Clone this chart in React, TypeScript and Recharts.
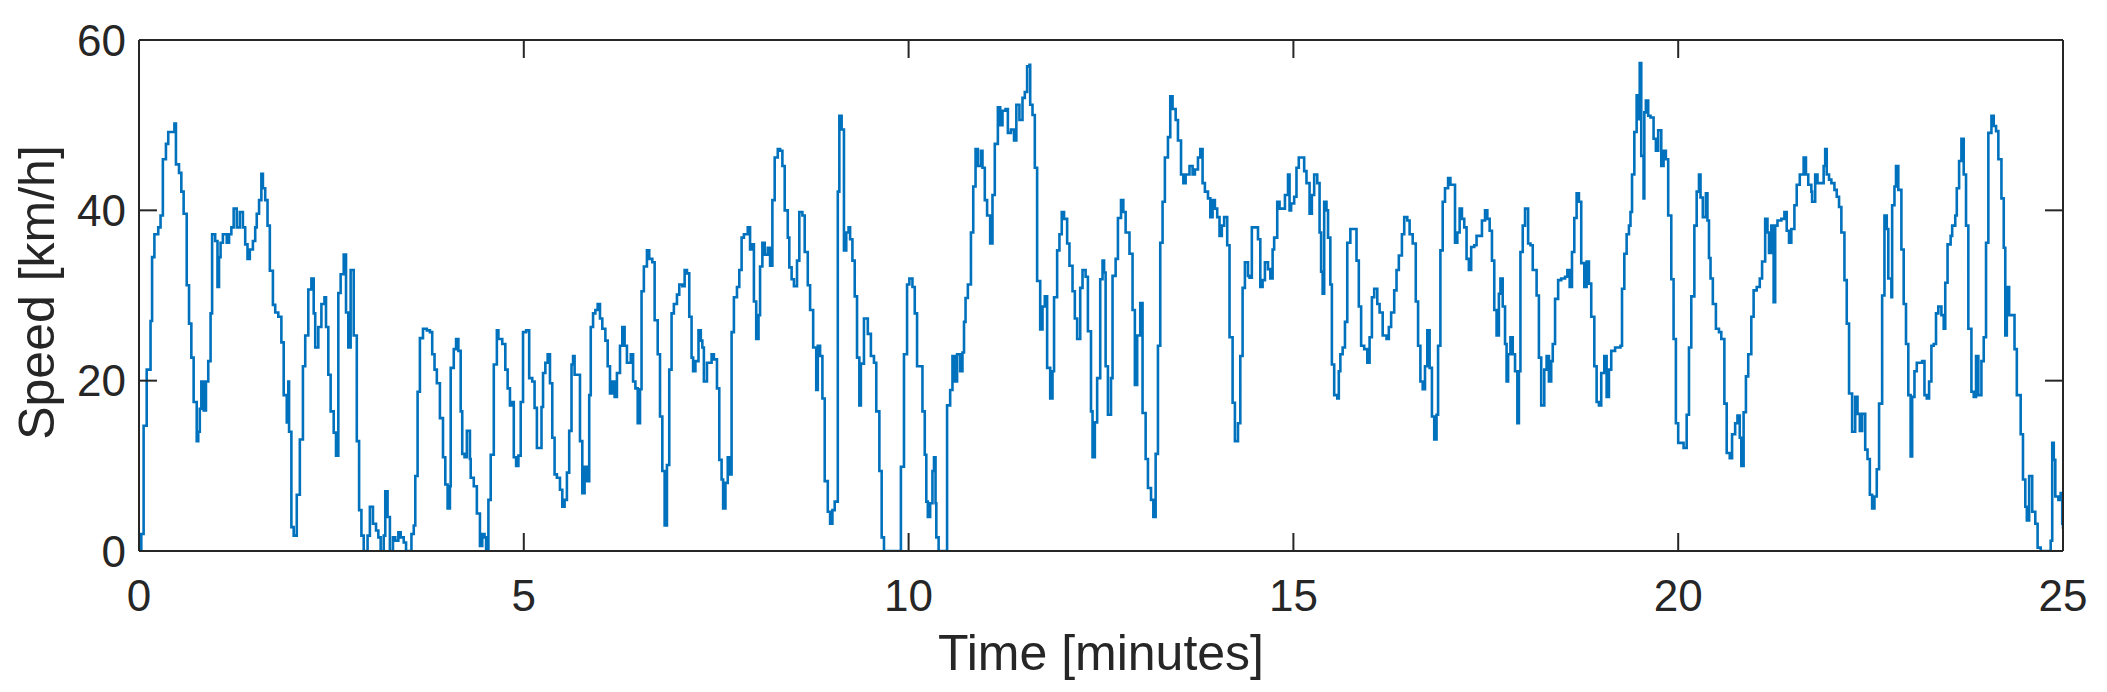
import { LineChart, Line, XAxis, YAxis, Label } from "recharts"

// speed trace, [minutes, km/h] in 5-minute chunks
const seg00to05: [number, number][] = [
  [0, 0], [0.03, 2], [0.06, 14.7], [0.1, 21.3], [0.15, 27], [0.17, 34.5], [0.2, 37.2], [0.25, 38], [0.28, 39.4], [0.31, 46],
  [0.35, 47.8], [0.38, 49.2], [0.42, 49.2], [0.46, 50.2], [0.48, 45.4], [0.52, 44.4], [0.55, 42.2], [0.58, 39.6], [0.62, 31.2], [0.65, 26.7],
  [0.68, 22.7], [0.71, 17.5], [0.75, 12.9], [0.77, 14], [0.79, 16.7], [0.81, 19.9], [0.84, 16.5], [0.87, 19.9], [0.9, 22.3], [0.93, 27.9],
  [0.95, 37.2], [0.99, 36.4], [1.02, 31], [1.04, 34.5], [1.06, 36.2], [1.09, 37.2], [1.14, 36.2], [1.17, 37.2], [1.2, 38], [1.23, 40.2],
  [1.27, 38], [1.31, 39.8], [1.35, 38], [1.38, 36], [1.41, 34.3], [1.44, 35.4], [1.48, 36.4], [1.51, 38], [1.53, 39.6], [1.56, 41.2],
  [1.59, 44.3], [1.61, 42.6], [1.64, 41.2], [1.67, 38.2], [1.7, 32.9], [1.74, 28.9], [1.77, 28], [1.81, 27.5], [1.85, 24.5], [1.88, 18.3],
  [1.92, 15.1], [1.94, 19.9], [1.95, 14], [1.98, 2.8], [2.01, 1.8], [2.05, 6.6], [2.09, 13.1], [2.13, 21.7], [2.16, 25.3], [2.2, 30.7],
  [2.24, 32], [2.27, 27.9], [2.29, 23.9], [2.33, 26.3], [2.37, 29], [2.41, 29.8], [2.43, 26.3], [2.46, 20.7], [2.49, 16.4], [2.53, 13.9],
  [2.56, 11.2], [2.59, 30.3], [2.62, 32.5], [2.66, 34.8], [2.69, 28], [2.72, 23.9], [2.75, 33], [2.79, 25.3], [2.83, 12.9], [2.86, 4.8],
  [2.89, 1.8], [2.92, 0], [2.97, 1.8], [3.0, 5.2], [3.04, 3.2], [3.08, 2.4], [3.11, 1.6], [3.14, 0], [3.18, 1.8], [3.2, 7],
  [3.23, 4], [3.26, 0], [3.3, 1.6], [3.33, 1.2], [3.37, 2.2], [3.4, 1.6], [3.44, 1], [3.47, 0], [3.52, 0], [3.54, 2],
  [3.57, 3], [3.59, 8.8], [3.62, 18.7], [3.65, 25], [3.69, 26.1], [3.74, 25.9], [3.78, 25.7], [3.81, 23.1], [3.84, 21.3], [3.87, 19.7],
  [3.91, 15.6], [3.95, 11], [3.98, 7.8], [4.01, 5], [4.04, 7.6], [4.05, 21.5], [4.09, 23.7], [4.12, 24.9], [4.15, 23.5], [4.18, 16.4],
  [4.2, 11.4], [4.23, 11], [4.26, 14.1], [4.3, 10.8], [4.31, 8.6], [4.35, 7.6], [4.39, 4.4], [4.43, 0.6], [4.46, 2], [4.49, 1.6],
  [4.51, 0], [4.54, 6], [4.57, 11.3], [4.61, 21.9], [4.65, 25.9], [4.67, 24.9], [4.72, 24.3], [4.76, 21.3], [4.79, 19.1], [4.82, 17.1],
  [4.85, 17.5], [4.87, 11], [4.9, 10], [4.93, 11.2], [4.96, 17.5], [4.99, 25.7],
]

const seg05to10: [number, number][] = [
  [5.03, 25.9], [5.07, 20.3], [5.11, 19.9], [5.14, 16.8], [5.17, 12.1], [5.2, 12.1], [5.23, 16.9], [5.25, 20.9], [5.28, 22.1], [5.31, 23.1],
  [5.34, 19.7], [5.37, 13.3], [5.4, 9], [5.43, 8.6], [5.47, 7.2], [5.5, 5.2], [5.53, 6], [5.56, 9.2], [5.59, 14.1], [5.62, 21.9],
  [5.64, 22.9], [5.66, 20.7], [5.69, 20.7], [5.73, 12.9], [5.76, 6.8], [5.79, 9.9], [5.82, 8.2], [5.85, 18.3], [5.87, 26.3], [5.9, 27.9],
  [5.93, 28.3], [5.96, 29], [5.99, 27.3], [6.02, 26.1], [6.06, 24.7], [6.09, 21.7], [6.12, 18.5], [6.15, 19.9], [6.18, 18.1], [6.21, 20.9],
  [6.25, 24.1], [6.28, 26.3], [6.31, 24.1], [6.34, 22.1], [6.39, 23.1], [6.42, 19.9], [6.45, 19.1], [6.48, 15], [6.51, 19], [6.53, 30.5],
  [6.56, 33.4], [6.6, 35.3], [6.63, 34.3], [6.67, 33.9], [6.7, 27.1], [6.74, 23.1], [6.77, 15.8], [6.8, 9.4], [6.83, 3], [6.86, 10.1],
  [6.89, 21.3], [6.92, 27.9], [6.95, 29], [6.99, 30.1], [7.02, 31.3], [7.06, 31.1], [7.09, 33], [7.12, 32.6], [7.15, 27.5], [7.18, 22.7],
  [7.2, 21.1], [7.23, 22.3], [7.27, 25.9], [7.3, 24.7], [7.32, 23.9], [7.34, 19.9], [7.38, 22.1], [7.41, 22.1], [7.44, 23.1], [7.47, 22.5],
  [7.51, 19.1], [7.54, 10.7], [7.57, 8.4], [7.59, 5], [7.62, 8], [7.65, 11], [7.68, 9], [7.7, 25.7], [7.73, 29.8], [7.77, 31],
  [7.8, 33], [7.83, 36.8], [7.86, 37.2], [7.91, 38], [7.94, 35.4], [7.97, 36], [7.99, 29.3], [8.02, 24.9], [8.05, 27.7], [8.07, 33.4],
  [8.1, 36.2], [8.13, 34.8], [8.17, 35.6], [8.2, 33.5], [8.23, 41.2], [8.26, 46.2], [8.3, 47.2], [8.33, 47], [8.36, 45.2], [8.39, 40],
  [8.43, 36.8], [8.45, 33.3], [8.48, 31.9], [8.51, 31.1], [8.55, 34.1], [8.58, 39.8], [8.62, 39.4], [8.65, 35.1], [8.69, 31.2], [8.72, 28.3],
  [8.76, 23.9], [8.8, 18.9], [8.82, 24.1], [8.85, 22.9], [8.88, 17.9], [8.91, 8.2], [8.95, 4.6], [8.98, 3.2], [9.01, 4.8], [9.04, 5.8],
  [9.08, 42.2], [9.1, 51.1], [9.13, 49.5], [9.16, 35.3], [9.19, 37.4], [9.22, 38], [9.24, 36.6], [9.27, 34.1], [9.3, 29.9], [9.33, 22.7],
  [9.36, 17.1], [9.38, 22], [9.42, 27.3], [9.47, 25.5], [9.51, 22.9], [9.55, 22.1], [9.58, 16.4], [9.62, 9.4], [9.65, 1.6], [9.68, 0],
  [9.88, 0], [9.9, 9.9], [9.94, 23.1], [9.98, 31.3],
]

const seg10to15: [number, number][] = [
  [10.01, 32], [10.05, 31], [10.08, 27.9], [10.11, 21.7], [10.18, 16.4], [10.21, 11.3], [10.23, 5.8], [10.25, 4], [10.28, 5.6], [10.31, 9.4],
  [10.33, 11], [10.35, 5.6], [10.36, 1.6], [10.39, 0], [10.48, 0], [10.5, 17.1], [10.54, 18.9], [10.57, 22.9], [10.6, 19.9], [10.63, 23.1],
  [10.67, 21.1], [10.7, 23.3], [10.72, 26.9], [10.74, 29.7], [10.77, 31.3], [10.81, 37.4], [10.84, 42.8], [10.87, 47.2], [10.9, 45.2], [10.94, 47],
  [10.96, 45], [10.99, 41.2], [11.02, 39.4], [11.06, 36.1], [11.09, 41.8], [11.12, 47.8], [11.16, 52.1], [11.19, 50], [11.22, 51.7], [11.26, 51.9],
  [11.29, 49.1], [11.33, 49.5], [11.37, 48.2], [11.4, 52.4], [11.44, 50.6], [11.48, 53.2], [11.51, 53.9], [11.54, 56.9], [11.57, 57.1], [11.58, 52.4],
  [11.61, 51.2], [11.64, 45], [11.67, 31.7], [11.71, 26], [11.74, 28.7], [11.77, 29.9], [11.8, 21.5], [11.84, 17.9], [11.87, 21.1], [11.89, 29.8],
  [11.93, 35.3], [11.96, 37.2], [11.99, 39.8], [12.02, 39], [12.06, 36.1], [12.09, 33.5], [12.13, 30.5], [12.16, 27.3], [12.19, 24.9], [12.23, 30.9],
  [12.26, 33], [12.3, 32.2], [12.33, 25.8], [12.37, 16.4], [12.39, 11], [12.42, 15.1], [12.45, 20.3], [12.49, 31.9], [12.52, 34.1], [12.54, 32.7],
  [12.56, 21.7], [12.59, 16], [12.63, 20.3], [12.65, 32.3], [12.69, 34.3], [12.72, 39.1], [12.76, 41.2], [12.79, 39.8], [12.82, 37.4], [12.87, 34.9],
  [12.91, 28.3], [12.94, 19.5], [12.97, 25.3], [13.01, 29.1], [13.04, 16.2], [13.08, 10.8], [13.11, 7.4], [13.15, 6], [13.18, 4], [13.21, 11.4],
  [13.24, 24.1], [13.27, 36.2], [13.3, 41], [13.33, 46.2], [13.37, 48.6], [13.4, 53.4], [13.43, 51.9], [13.47, 50.6], [13.5, 48.2], [13.54, 44.2],
  [13.57, 43.2], [13.6, 44.2], [13.65, 45.2], [13.69, 44.2], [13.72, 44.8], [13.76, 46.2], [13.79, 47.2], [13.82, 43.2], [13.85, 42.2], [13.89, 41.4],
  [13.92, 39.2], [13.95, 41.2], [13.98, 40.2], [14.01, 39.2], [14.04, 37], [14.07, 38.2], [14.1, 39.2], [14.14, 35.9], [14.17, 25.1], [14.21, 17.4],
  [14.24, 12.9], [14.28, 15], [14.31, 22.9], [14.34, 30.9], [14.37, 33.9], [14.41, 32.3], [14.43, 32.1], [14.46, 38], [14.49, 38], [14.54, 36.6],
  [14.57, 31], [14.6, 31.8], [14.63, 33.9], [14.67, 33.1], [14.7, 32], [14.73, 35.4], [14.75, 36.8], [14.79, 41], [14.82, 40.2], [14.86, 40.2],
  [14.89, 41.8], [14.93, 44.2], [14.95, 40], [14.97, 40.8],
]

const seg15to20: [number, number][] = [
  [15.01, 41.6], [15.04, 45], [15.07, 46.2], [15.11, 46.2], [15.14, 44.6], [15.17, 43.2], [15.21, 39.6], [15.24, 41.8], [15.27, 44.2], [15.31, 43.2],
  [15.34, 37.4], [15.36, 32.8], [15.38, 30.2], [15.4, 41], [15.43, 40], [15.45, 36.8], [15.48, 31.3], [15.5, 21.9], [15.53, 18.3], [15.57, 17.9],
  [15.59, 21.1], [15.61, 23.1], [15.64, 23.9], [15.67, 26.9], [15.7, 36.2], [15.74, 37.8], [15.79, 37.8], [15.82, 34.1], [15.85, 28.7], [15.88, 24.1],
  [15.92, 23.7], [15.96, 22.1], [15.99, 25.1], [16.02, 29.8], [16.05, 30.8], [16.09, 29], [16.12, 28], [16.16, 25.3], [16.21, 24.9], [16.24, 26.3],
  [16.27, 28], [16.31, 30.6], [16.34, 33], [16.37, 34.7], [16.41, 37.2], [16.44, 39.2], [16.48, 38.8], [16.51, 37.2], [16.55, 36.1], [16.59, 29.3],
  [16.62, 24.1], [16.65, 19.9], [16.68, 19], [16.71, 21.7], [16.74, 25.9], [16.77, 21.5], [16.8, 15.8], [16.83, 13.1], [16.86, 16], [16.88, 24.1],
  [16.91, 35.3], [16.94, 41], [16.97, 42.6], [17.01, 43.8], [17.04, 43], [17.07, 43], [17.1, 36.2], [17.13, 37.4], [17.16, 40.2], [17.19, 39],
  [17.22, 38], [17.25, 34.3], [17.28, 33], [17.31, 35.7], [17.35, 35.9], [17.38, 37], [17.42, 37], [17.45, 38.8], [17.49, 40], [17.52, 39],
  [17.55, 37.6], [17.58, 34.1], [17.61, 28.3], [17.64, 25.3], [17.67, 30.2], [17.69, 32], [17.72, 28.7], [17.75, 24.3], [17.77, 19.9], [17.79, 23.1],
  [17.82, 25.1], [17.85, 23.1], [17.88, 21.1], [17.91, 15], [17.93, 21.1], [17.95, 35.1], [17.98, 38.2], [18.01, 40.2], [18.05, 36.1], [18.08, 35.9],
  [18.11, 33], [18.16, 30], [18.19, 22.7], [18.22, 17.1], [18.26, 21.3], [18.29, 22.9], [18.32, 19.9], [18.35, 22.3], [18.37, 24.3], [18.4, 29.6],
  [18.44, 31.8], [18.48, 32], [18.53, 32.2], [18.56, 33], [18.59, 31], [18.62, 35.1], [18.65, 39.1], [18.68, 42], [18.71, 41], [18.74, 33.8],
  [18.78, 31], [18.81, 34], [18.84, 31.4], [18.87, 27.5], [18.91, 21.7], [18.94, 17.5], [18.97, 17.1], [19.0, 20.9], [19.04, 22.9], [19.07, 18.1],
  [19.1, 21.3], [19.13, 23.5], [19.18, 23.9], [19.22, 23.9], [19.25, 24.1], [19.27, 30.8], [19.3, 34.9], [19.33, 37.2], [19.36, 38.2], [19.38, 39.8],
  [19.4, 44.2], [19.43, 49.2], [19.46, 53.5], [19.48, 50.7], [19.5, 57.3], [19.52, 46.4], [19.55, 41.4], [19.56, 51.5], [19.58, 52.9], [19.61, 51.1],
  [19.64, 50.9], [19.68, 48.4], [19.71, 47], [19.74, 49.4], [19.78, 45.2], [19.81, 47], [19.84, 46], [19.87, 39.4], [19.91, 31.9], [19.94, 24.9],
  [19.97, 15], [20.0, 12.7],
]

const seg20to25: [number, number][] = [
  [20.07, 12.1], [20.11, 16], [20.14, 23.9], [20.17, 29.9], [20.21, 38.2], [20.24, 42.2], [20.27, 44.2], [20.29, 41.5], [20.32, 39.2], [20.36, 42],
  [20.38, 38.8], [20.4, 34.4], [20.42, 32], [20.45, 29], [20.49, 26.1], [20.53, 25.7], [20.56, 24.9], [20.6, 17.3], [20.63, 11.5], [20.67, 10.9],
  [20.7, 13.7], [20.74, 15], [20.77, 15.9], [20.8, 13.3], [20.82, 10], [20.85, 16.3], [20.88, 20.5], [20.91, 23.1], [20.95, 27.5], [20.98, 30.6],
  [21.02, 31], [21.06, 32], [21.09, 34], [21.13, 39], [21.16, 37.4], [21.18, 35], [21.21, 38.2], [21.24, 29.2], [21.26, 38.2], [21.29, 38.8],
  [21.34, 39], [21.38, 39.8], [21.41, 37.6], [21.44, 36.2], [21.47, 37.8], [21.51, 40.6], [21.54, 43], [21.58, 44.2], [21.63, 46.2], [21.66, 44.2],
  [21.69, 43], [21.73, 42.2], [21.74, 41], [21.78, 44.2], [21.81, 43.2], [21.86, 43.2], [21.89, 45.2], [21.91, 47.2], [21.93, 44.2], [21.96, 43.6],
  [21.99, 43.2], [22.03, 42.4], [22.06, 41.6], [22.09, 40.4], [22.12, 37.4], [22.16, 31.8], [22.19, 26.7], [22.22, 18.5], [22.26, 14], [22.3, 18.1],
  [22.33, 16.1], [22.36, 14.1], [22.39, 16.1], [22.43, 11.9], [22.46, 10.8], [22.49, 6.6], [22.52, 5], [22.55, 6.4], [22.58, 9.6], [22.61, 17.3],
  [22.65, 30], [22.68, 39.4], [22.71, 37.8], [22.73, 32], [22.77, 29.8], [22.78, 40.6], [22.81, 42.8], [22.83, 45.2], [22.86, 42.4], [22.9, 35.4],
  [22.93, 29], [22.96, 24.3], [22.99, 18.3], [23.02, 11.1], [23.04, 18.1], [23.07, 21.1], [23.1, 22.1], [23.13, 22.1], [23.17, 22.3], [23.2, 18.3],
  [23.23, 17.9], [23.26, 19.9], [23.29, 24.1], [23.32, 24.3], [23.35, 27.9], [23.38, 28.7], [23.42, 27.7], [23.45, 26.1], [23.47, 31.5], [23.5, 36],
  [23.54, 37], [23.56, 38.2], [23.6, 39.4], [23.62, 42.6], [23.65, 45.8], [23.68, 48.4], [23.71, 44.2], [23.74, 38.2], [23.77, 26.1], [23.81, 18.7],
  [23.84, 18.1], [23.87, 22.9], [23.9, 18.3], [23.94, 22.3], [23.97, 25.1], [24.0, 36.2], [24.03, 49.1], [24.07, 51.1], [24.1, 49.9], [24.13, 49.3],
  [24.16, 46], [24.2, 41.4], [24.23, 35.6], [24.25, 25.3], [24.27, 31], [24.3, 27.7], [24.34, 27.7], [24.37, 23.7], [24.4, 18.3], [24.45, 13.7],
  [24.48, 8.4], [24.51, 5.2], [24.53, 3.6], [24.56, 8.8], [24.6, 4.6], [24.64, 3.2], [24.67, 0.4], [24.71, 0], [24.8, 0], [24.84, 1.2],
  [24.86, 12.7], [24.88, 10.7], [24.9, 6.4], [24.94, 6], [24.97, 6.8], [24.99, 3.2], [25.0, 2.6],
]

const xTicks = [0, 5, 10, 15, 20, 25]
const yTicks = [0, 20, 40, 60]

const speedData = [...seg00to05, ...seg05to10, ...seg10to15, ...seg15to20, ...seg20to25].map(([t, v]) => ({ t, v }))

const FONT = '"Liberation Sans", Arial, Helvetica, sans-serif'
const INK = "#262626"
const BLUE = "#0072BD"

// layout
const W = 2107
const H = 692
const M_TOP = 40
const M_RIGHT = 44
const X_AXIS_H = 141
const Y_AXIS_W = 139
const PLOT_TOP = M_TOP
const PLOT_BOTTOM = H - X_AXIS_H
const PLOT_LEFT = Y_AXIS_W
const PLOT_RIGHT = W - M_RIGHT
const TICK_LEN = 18

// MATLAB-ish: tick marks point into the box, on both opposite sides
// eslint-disable-next-line @typescript-eslint/no-explicit-any
function XTick({ x, y, payload }: any) {
  return (
    <g>
      <line x1={x} x2={x} y1={PLOT_BOTTOM} y2={PLOT_BOTTOM - TICK_LEN} stroke={INK} strokeWidth={2} />
      <line x1={x} x2={x} y1={PLOT_TOP} y2={PLOT_TOP + TICK_LEN} stroke={INK} strokeWidth={2} />
      <text x={x} y={y} dy="0.71em" textAnchor="middle" fill={INK} fontSize={44} fontFamily={FONT}>
        {payload.value}
      </text>
    </g>
  )
}

// eslint-disable-next-line @typescript-eslint/no-explicit-any
function YTick({ x, y, payload }: any) {
  return (
    <g>
      <line x1={PLOT_LEFT} x2={PLOT_LEFT + TICK_LEN} y1={y} y2={y} stroke={INK} strokeWidth={2} />
      <line x1={PLOT_RIGHT} x2={PLOT_RIGHT - TICK_LEN} y1={y} y2={y} stroke={INK} strokeWidth={2} />
      <text x={x} y={y} dy="0.355em" textAnchor="end" fill={INK} fontSize={44} fontFamily={FONT}>
        {payload.value}
      </text>
    </g>
  )
}

// eslint-disable-next-line @typescript-eslint/no-explicit-any
function XTitle({ viewBox }: any) {
  const { x, y, width } = viewBox
  return (
    <text x={x + width / 2} y={y + 119} textAnchor="middle" fill={INK} fontSize={50} fontFamily={FONT}>
      Time [minutes]
    </text>
  )
}

// eslint-disable-next-line @typescript-eslint/no-explicit-any
function YTitle({ viewBox }: any) {
  const { x, y, height } = viewBox
  const cx = x + 54
  const cy = y + height / 2 - 3
  return (
    <text x={cx} y={cy} transform={`rotate(-90, ${cx}, ${cy})`} textAnchor="middle" fill={INK} fontSize={50} fontFamily={FONT}>
      Speed [km/h]
    </text>
  )
}

const border = { stroke: INK, strokeWidth: 2 }

export default function App() {
  return (
    <div style={{ position: "absolute", left: 0, top: 0, background: "#fff" }}>
      <LineChart width={W} height={H} data={speedData} margin={{ top: M_TOP, right: M_RIGHT, bottom: 0, left: 0 }}>
        <XAxis
          dataKey="t"
          type="number"
          domain={[0, 25]}
          allowDataOverflow
          ticks={xTicks}
          interval={0}
          height={X_AXIS_H}
          tickLine={false}
          tickSize={0}
          tickMargin={29}
          axisLine={border}
          tick={<XTick />}
        >
          <Label content={<XTitle />} />
        </XAxis>
        {/* top and right edges of the box */}
        <XAxis xAxisId="top" dataKey="t" type="number" domain={[0, 25]} allowDataOverflow
          orientation="top" mirror tick={false} tickLine={false} axisLine={border} />
        <YAxis
          type="number"
          domain={[0, 60]}
          allowDataOverflow
          ticks={yTicks}
          interval={0}
          width={Y_AXIS_W}
          tickLine={false}
          tickSize={0}
          tickMargin={13}
          axisLine={border}
          tick={<YTick />}
        >
          <Label content={<YTitle />} />
        </YAxis>
        <YAxis yAxisId="right" type="number" domain={[0, 60]} allowDataOverflow
          orientation="right" mirror tick={false} tickLine={false} axisLine={border} />
        <Line dataKey="v" type="stepAfter" stroke={BLUE} strokeWidth={2.6} dot={false} isAnimationActive={false} />
      </LineChart>
    </div>
  )
}
